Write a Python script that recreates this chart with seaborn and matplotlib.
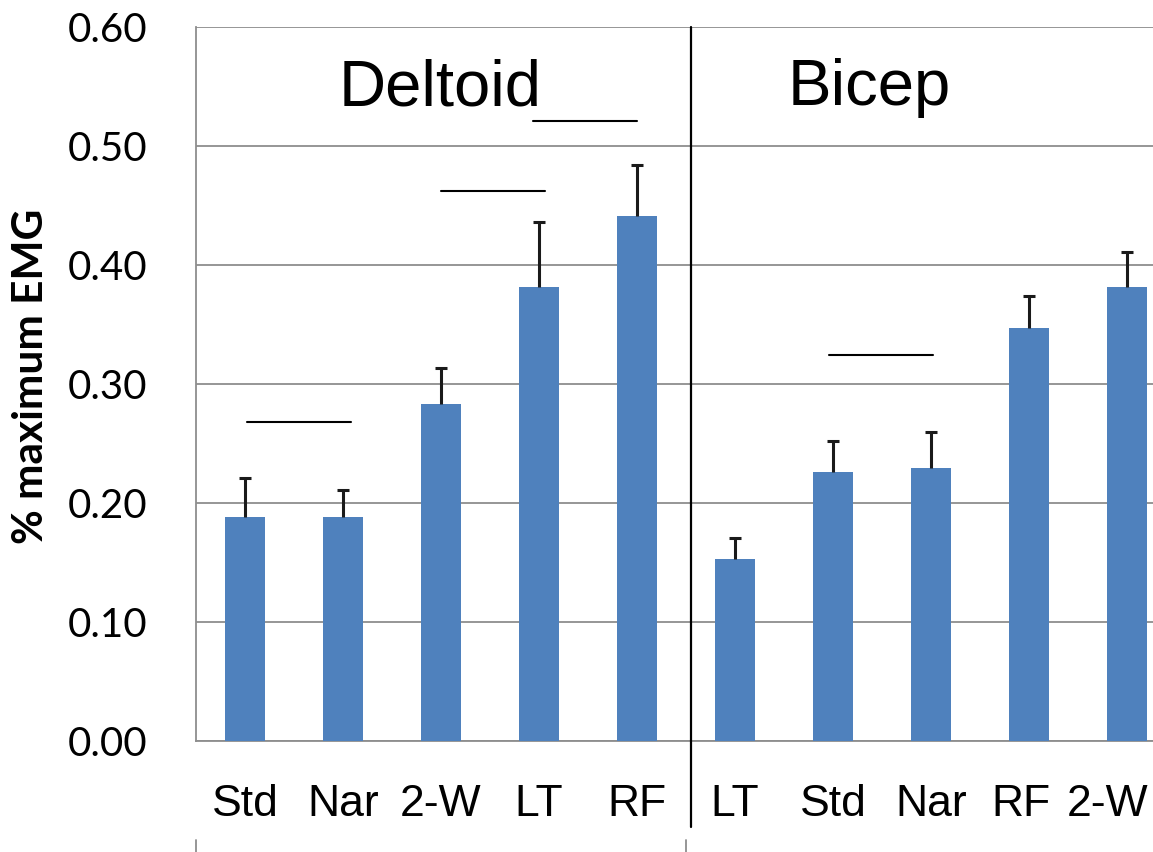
import matplotlib
matplotlib.use("Agg")
import matplotlib.pyplot as plt
import matplotlib.transforms as mtransforms
import seaborn as sns
import pandas as pd
import numpy as np

# ---- data ----
groups = ["Deltoid"] * 5 + ["Bicep"] * 5
conditions = ["Std", "Nar", "2-W", "LT", "RF", "LT", "Std", "Nar", "RF", "2-W"]
values = [0.188, 0.188, 0.283, 0.381, 0.441, 0.153, 0.226, 0.229, 0.347, 0.381]
errors = [0.033, 0.023, 0.030, 0.055, 0.043, 0.017, 0.026, 0.030, 0.027, 0.030]
y_ticks = [0.0, 0.1, 0.2, 0.3, 0.4, 0.5, 0.6]
group_names = ["Deltoid", "Bicep"]
# significance bars: (x start, x end, y) in category units / data units
sig_bars = [(0.02, 1.08, 0.268), (2.00, 3.06, 0.462), (2.94, 4.00, 0.521), (5.96, 7.02, 0.324)]

df = pd.DataFrame({"group": groups, "condition": conditions, "value": values})
df["key"] = df["group"] + " " + df["condition"]

sns.set_style("white")
plt.rcParams["font.family"] = ["Liberation Sans", "DejaVu Sans"]
plt.rcParams["text.color"] = "black"
plt.rcParams["axes.labelcolor"] = "black"

fig = plt.figure(figsize=(11.53, 8.52), dpi=100)
ax = fig.add_axes([196 / 1153, 111.3 / 852, 980 / 1153, 714 / 852])

bar_color = "#4F81BD"
grid_color = "#8E8E8E"

sns.barplot(data=df, x="key", y="value", order=list(df["key"]), color=bar_color,
            width=0.408, saturation=1, edgecolor="none", errorbar=None, ax=ax, zorder=3)

xpos = np.arange(len(values))
_, caplines, _ = ax.errorbar(xpos, values, yerr=[np.zeros(len(errors)), errors], fmt="none",
                             ecolor="#1a1a1a", elinewidth=2.2, capsize=4.2, capthick=2.2, zorder=4)
# hide the zero-length lower caps
caplines[0].set_visible(False)

ax.set_xlim(-0.5, 9.5)
ax.set_ylim(0, 0.6)
ax.set_yticks(y_ticks)
ax.set_yticklabels([f"{t:.2f}" for t in y_ticks], fontfamily="Lato", fontsize=29)
ax.yaxis.grid(True, color=grid_color, linewidth=1.3, zorder=0)
ax.set_axisbelow(True)
ax.tick_params(axis="y", direction="out", length=10.8, width=1.3, color=grid_color,
               labelcolor="black", pad=24)

ax.set_xticks(xpos)
ax.set_xticklabels(conditions, fontsize=32)
ax.set_xticks(np.arange(-0.5, 10, 1.0), minor=True)
ax.tick_params(axis="x", which="major", length=0, pad=31, labelcolor="black")
ax.tick_params(axis="x", which="minor", direction="out", length=15.8, width=1.3, color=grid_color)
ax.set_xlabel("")

# small horizontal nudges of the last bicep labels (as in the reference)
xlabels = ax.get_xticklabels()
for idx, dx in [(8, -8), (9, -19)]:
    lab = xlabels[idx]
    lab.set_transform(lab.get_transform() + mtransforms.ScaledTranslation(dx / 100, 0, fig.dpi_scale_trans))

for s in ["top", "right"]:
    ax.spines[s].set_visible(False)
for s in ["left", "bottom"]:
    ax.spines[s].set_color(grid_color)
    ax.spines[s].set_linewidth(1.3)

ax.set_ylabel("% maximum EMG", fontfamily="Lato", fontweight="bold", fontsize=30.5, va="center")
ax.yaxis.set_label_coords(-0.168, 0.510)

# group labels
ax.text(1.99, 0.534, group_names[0], fontsize=47, ha="center", va="baseline", zorder=5)
ax.text(6.37, 0.534, group_names[1], fontsize=47, ha="center", va="baseline", zorder=5)

# significance lines
for x0, x1, yv in sig_bars:
    ax.plot([x0, x1], [yv, yv], color="black", linewidth=1.5, zorder=5)

# group divider and second-level ticks
trans = mtransforms.blended_transform_factory(ax.transData, ax.transAxes)
ax.plot([4.546, 4.546], [1.0, -0.121], color="black", linewidth=1.6, transform=trans, clip_on=False, zorder=6)
for xb in [-0.5, 4.5, 9.5]:
    ax.plot([xb, xb], [-0.139, -0.17], color=grid_color, linewidth=1.3, transform=trans, clip_on=False)

fig.savefig("out.png", dpi=100)
